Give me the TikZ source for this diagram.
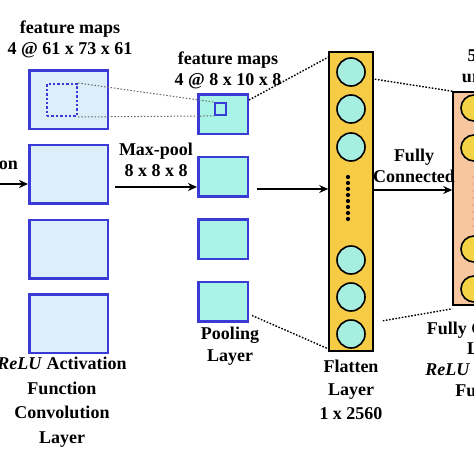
\documentclass[tikz,border=0pt]{standalone}
\usepackage{fontspec}
\setmainfont{Liberation Serif}
\usetikzlibrary{arrows.meta}

\definecolor{mapblue}{HTML}{3A3AD6}
\definecolor{convfill}{HTML}{DDEEFB}
\definecolor{poolfill}{HTML}{A9F3E6}
\definecolor{flatfill}{HTML}{F6CB45}
\definecolor{unitcyan}{HTML}{A6EEE0}
\definecolor{densefill}{HTML}{F7C59E}
\definecolor{unityellow}{HTML}{F4D445}
\definecolor{fadedot}{HTML}{E9A98A}

\tikzset{
  convmap/.style={draw=mapblue, fill=convfill, line width=2.5pt, minimum width=78.5pt, minimum height=58.5pt, inner sep=0pt},
  poolmap/.style={draw=mapblue, fill=poolfill, line width=2.5pt, minimum width=49.5pt, minimum height=39.5pt, inner sep=0pt},
  flatunit/.style={circle, draw=black, fill=unitcyan, line width=1.6pt, minimum size=28pt, inner sep=0pt},
  denseunit/.style={circle, draw=black, fill=unityellow, line width=1.6pt, minimum size=26pt, inner sep=0pt},
  txt/.style={font=\fontsize{18}{21}\selectfont\bfseries, align=center, inner sep=0pt},
  talltxt/.style={font=\fontsize{18}{24.5}\selectfont\bfseries, align=center, inner sep=0pt},
  link/.style={black, line width=1.4pt, dash pattern=on 1.6pt off 1.6pt},
  flow/.style={line width=1.8pt, -{Stealth[length=9pt, width=8pt]}}
}

\begin{document}
\begin{tikzpicture}[x=1pt, y=-1pt]
    \useasboundingbox (0,0) rectangle (474,474);
    \clip (0,0) rectangle (474,474);

    % Convolution feature maps
    \foreach \i/\y in {1/99.5, 2/174.3, 3/249.1, 4/323.9}
        \node [convmap] (conv\i) at (68.5,\y) {};
    \node [draw=mapblue, line width=2pt, dash pattern=on 2.4pt off 2pt,
           minimum width=30pt, minimum height=32pt, inner sep=0pt] (win) at (62,100) {};

    % Pooling feature maps
    \foreach \i/\y in {1/114, 2/176.5, 3/239, 4/301.5}
        \node [poolmap] (pool\i) at (223,\y) {};
    \node [draw=mapblue, line width=1.8pt, minimum width=11pt, minimum height=12pt, inner sep=0pt] (pwin) at (220.5,109) {};

    % Window of first map pooled into one cell
    \draw [gray!80!black, line width=1pt, dash pattern=on 1.5pt off 1.8pt] (win.north east) -- (pwin.north west);
    \draw [gray!80!black, line width=1pt, dash pattern=on 1.5pt off 1.8pt] (win.south east) -- (pwin.south west);

    % Flatten layer
    \node [draw=black, fill=flatfill, line width=1.6pt, minimum width=44pt, minimum height=299pt, inner sep=0pt] (flat) at (351,201.5) {};
    \foreach \i/\y in {1/72, 2/109, 3/147, 4/260, 5/297, 6/334}
        \node [flatunit] (f\i) at (351,\y) {};
    \foreach \y in {177,183,...,219}
        \fill (348,\y) circle (2.1);

    % Fully connected layer
    \node [draw=black, fill=densefill, line width=1.6pt, minimum width=70pt, minimum height=213pt, inner sep=0pt] (dense) at (488,198.5) {};
    \foreach \i/\y in {1/108, 2/148, 3/249, 4/289}
        \node [denseunit] (d\i) at (474,\y) {};
    \foreach \y in {177,184,...,226}
        \fill [fadedot] (473,\y) circle (1.1);

    % Dotted links between layers
    \draw [link] (pool1.north east) ++(0,7) -- (flat.north west |- f1.north);
    \draw [link] (pool4.south east) ++(3,-7) -- (flat.south west |- f6.south);
    \draw [link] (flat.north east) ++(1,28) -- (dense.north west) ++(0,8);
    \draw [link] (flat.south east) ++(9,-31) -- ([yshift=-3pt]dense.south west);

    % Arrows
    \coordinate (in) at (0,184);
    \draw [flow] (in) -- (conv2.west |- in);
    \coordinate (mp) at (115,187);
    \draw [flow] (mp) -- (pool2.west |- mp);
    \coordinate (fl) at (257,189);
    \draw [flow] (fl) -- (flat.west |- fl);
    \coordinate (fc) at (374,190);
    \draw [flow] (fc) -- (dense.west |- fc);

    % Labels
    \node [txt, anchor=east] (inlbl) at (18,163) {Convolution};
    \node [txt] (convtop) at (70,39.5) {feature maps\\4 @ 61 x 73 x 61};
    \node [txt] (pooltop) at (228,70) {feature maps\\4 @ 8 x 10 x 8};
    \node [txt] (mplbl) at (156,160) {Max-pool\\8 x 8 x 8};
    \node [txt] (fclbl) at (414,165.5) {Fully\\Connected};
    \node [txt] (densetop) at (481,66.5) {512\\units};
    \node [talltxt] (convlbl) at (62,402) {\textit{ReLU} Activation\\Function\\Convolution\\Layer};
    \node [talltxt, font=\fontsize{18}{22}\selectfont\bfseries] (poollbl) at (230,346) {Pooling\\Layer};
    \node [talltxt, font=\fontsize{18}{23.5}\selectfont\bfseries] (flatlbl) at (351,389.5) {Flatten\\Layer\\1 x 2560};
    \node [talltxt, font=\fontsize{18}{20.7}\selectfont\bfseries] (denselbl) at (490,359) {Fully Connected\\Layer\\\textit{ReLU} Activation\\Function};

\end{tikzpicture}
\end{document}
